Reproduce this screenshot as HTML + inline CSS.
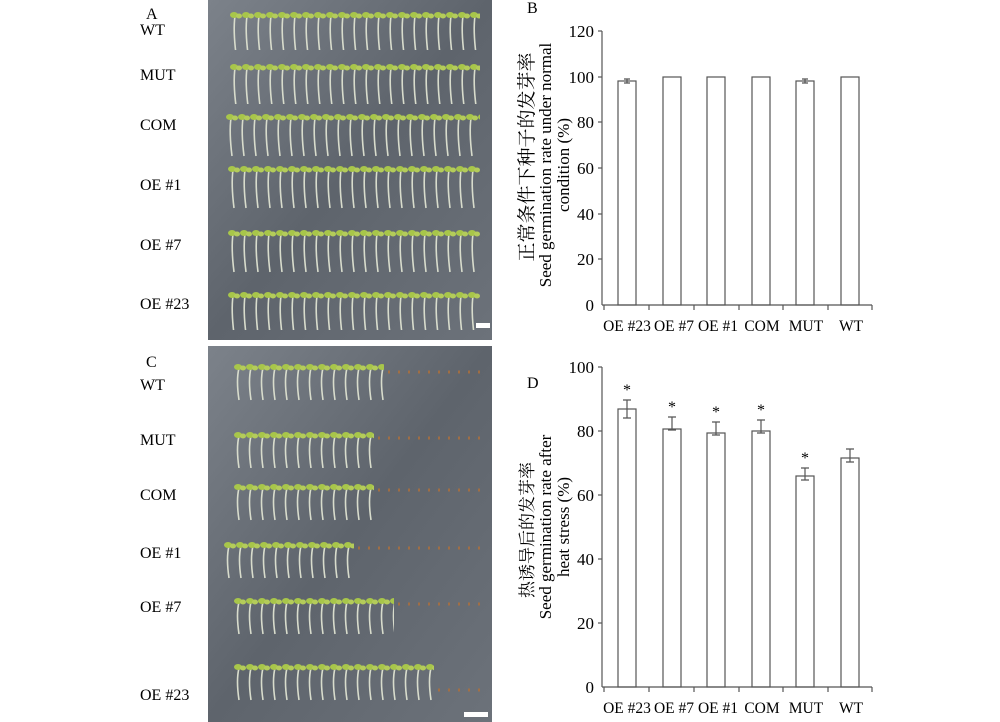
<html><head><style>body{margin:0;background:#fff}</style></head><body>
<svg width="1000" height="722" xmlns="http://www.w3.org/2000/svg" font-family="Liberation Serif, Noto Serif CJK SC, serif">
<defs>
<linearGradient id="g1" x1="0" y1="0" x2="1" y2="1"><stop offset="0" stop-color="#7c828a"/><stop offset="0.5" stop-color="#5e646c"/><stop offset="1" stop-color="#6c727a"/></linearGradient>
<pattern id="sd" width="12" height="45" patternUnits="userSpaceOnUse">
<path d="M5 6 Q3 20 6 44" stroke="#d8dccc" stroke-width="1.6" fill="none"/>
<ellipse cx="4" cy="5" rx="4" ry="3" fill="#a8c64a"/><ellipse cx="9" cy="6" rx="3" ry="2.5" fill="#b4cc5a"/>
</pattern>
<pattern id="sc" width="12" height="40" patternUnits="userSpaceOnUse">
<path d="M5 6 Q2 18 5 38" stroke="#d8dccc" stroke-width="1.6" fill="none"/>
<ellipse cx="4" cy="5" rx="4" ry="3" fill="#a8c64a"/><ellipse cx="9" cy="6" rx="3" ry="2.5" fill="#b4cc5a"/>
</pattern>
</defs>
<rect x="208" y="0" width="284" height="340" fill="url(#g1)"/>
<rect x="208" y="346" width="284" height="376" fill="url(#g1)"/>
<g transform="translate(230,10)"><rect width="250" height="40" fill="url(#sd)"/></g>
<g transform="translate(230,62)"><rect width="250" height="42" fill="url(#sd)"/></g>
<g transform="translate(226,112)"><rect width="254" height="45" fill="url(#sd)"/></g>
<g transform="translate(228,164)"><rect width="252" height="45" fill="url(#sd)"/></g>
<g transform="translate(228,228)"><rect width="252" height="45" fill="url(#sd)"/></g>
<g transform="translate(228,290)"><rect width="252" height="40" fill="url(#sd)"/></g>
<g transform="translate(234,362)"><rect width="150" height="40" fill="url(#sc)"/></g>
<g transform="translate(234,430)"><rect width="140" height="38" fill="url(#sc)"/></g>
<g transform="translate(234,482)"><rect width="140" height="40" fill="url(#sc)"/></g>
<g transform="translate(224,540)"><rect width="130" height="40" fill="url(#sc)"/></g>
<g transform="translate(234,596)"><rect width="160" height="40" fill="url(#sc)"/></g>
<g transform="translate(234,662)"><rect width="200" height="40" fill="url(#sc)"/></g>
<g stroke="#b0703a" stroke-width="3" stroke-dasharray="2 8" opacity="0.8">
<line x1="388" y1="372" x2="480" y2="372"/><line x1="378" y1="438" x2="480" y2="438"/><line x1="378" y1="490" x2="480" y2="490"/>
<line x1="358" y1="548" x2="480" y2="548"/><line x1="398" y1="604" x2="480" y2="604"/><line x1="438" y1="690" x2="480" y2="690"/>
</g>
<rect x="476" y="323" width="14" height="5" fill="#fff"/>
<rect x="464" y="712" width="24" height="5" fill="#fff"/>
<g font-size="16" fill="#000">
<text x="146" y="19">A</text><text x="140" y="35">WT</text><text x="140" y="80">MUT</text><text x="140" y="130">COM</text>
<text x="140" y="190">OE #1</text><text x="140" y="250">OE #7</text><text x="140" y="309">OE #23</text>
<text x="146" y="367">C</text><text x="140" y="390">WT</text><text x="140" y="445">MUT</text><text x="140" y="500">COM</text>
<text x="140" y="558">OE #1</text><text x="140" y="612">OE #7</text><text x="140" y="700">OE #23</text>
<text x="527" y="13">B</text><text x="527" y="388">D</text>
</g>
<g stroke="#555" stroke-width="1.2" fill="none">
<line x1="602" y1="31" x2="602" y2="305"/><line x1="602" y1="305" x2="872" y2="305"/>
<line x1="598" y1="31" x2="602" y2="31"/><line x1="598" y1="77" x2="602" y2="77"/><line x1="598" y1="122" x2="602" y2="122"/><line x1="598" y1="168" x2="602" y2="168"/><line x1="598" y1="214" x2="602" y2="214"/><line x1="598" y1="259" x2="602" y2="259"/>
<line x1="604" y1="305" x2="604" y2="310"/><line x1="649" y1="305" x2="649" y2="310"/><line x1="694" y1="305" x2="694" y2="310"/><line x1="739" y1="305" x2="739" y2="310"/><line x1="783" y1="305" x2="783" y2="310"/><line x1="828" y1="305" x2="828" y2="310"/><line x1="872" y1="305" x2="872" y2="310"/>
<rect x="618" y="81" width="18" height="224"/><rect x="663" y="77" width="18" height="228"/><rect x="707" y="77" width="18" height="228"/><rect x="752" y="77" width="18" height="228"/><rect x="796" y="81" width="18" height="224"/><rect x="841" y="77" width="18" height="228"/>
<path d="M624 79h6M627 79v4M624 83h6M802 79h6M805 79v4M802 83h6"/>
</g>
<g font-size="17" text-anchor="end"><text x="594" y="37">120</text><text x="594" y="83">100</text><text x="594" y="128">80</text><text x="594" y="174">60</text><text x="594" y="220">40</text><text x="594" y="265">20</text><text x="594" y="311">0</text></g>
<g font-size="15.5" text-anchor="middle"><text x="627" y="331">OE #23</text><text x="674" y="331">OE #7</text><text x="718" y="331">OE #1</text><text x="762" y="331">COM</text><text x="806" y="331">MUT</text><text x="851" y="331">WT</text></g>
<g text-anchor="middle"><text font-size="19" transform="translate(533,157) rotate(-90)">正常条件下种子的发芽率</text><text font-size="17" transform="translate(551,165) rotate(-90)">Seed germination rate under normal</text><text font-size="17" transform="translate(569,165) rotate(-90)">condition (%)</text></g>
<g stroke="#555" stroke-width="1.2" fill="none">
<line x1="602" y1="367" x2="602" y2="687"/><line x1="602" y1="687" x2="872" y2="687"/>
<line x1="598" y1="367" x2="602" y2="367"/><line x1="598" y1="431" x2="602" y2="431"/><line x1="598" y1="495" x2="602" y2="495"/><line x1="598" y1="559" x2="602" y2="559"/><line x1="598" y1="623" x2="602" y2="623"/>
<line x1="604" y1="687" x2="604" y2="692"/><line x1="649" y1="687" x2="649" y2="692"/><line x1="694" y1="687" x2="694" y2="692"/><line x1="739" y1="687" x2="739" y2="692"/><line x1="783" y1="687" x2="783" y2="692"/><line x1="828" y1="687" x2="828" y2="692"/><line x1="872" y1="687" x2="872" y2="692"/>
<rect x="618" y="409" width="18" height="278"/><rect x="663" y="429" width="18" height="258"/><rect x="707" y="433" width="18" height="254"/><rect x="752" y="431" width="18" height="256"/><rect x="796" y="476" width="18" height="211"/><rect x="841" y="458" width="18" height="229"/>
<path d="M623 400h8M627 400v18M623 418h8M668 417h8M672 417v13M668 430h8M712 422h8M716 422v13M712 435h8M757 420h8M761 420v13M757 433h8M801 468h8M805 468v12M801 480h8M846 449h8M850 449v13M846 462h8"/>
</g>
<g font-size="17" text-anchor="end"><text x="594" y="373">100</text><text x="594" y="437">80</text><text x="594" y="501">60</text><text x="594" y="565">40</text><text x="594" y="629">20</text><text x="594" y="693">0</text></g>
<g font-size="16" text-anchor="middle"><text x="627" y="395">*</text><text x="672" y="412">*</text><text x="716" y="417">*</text><text x="761" y="415">*</text><text x="805" y="463">*</text></g>
<g font-size="15.5" text-anchor="middle"><text x="627" y="713">OE #23</text><text x="674" y="713">OE #7</text><text x="718" y="713">OE #1</text><text x="762" y="713">COM</text><text x="806" y="713">MUT</text><text x="851" y="713">WT</text></g>
<g text-anchor="middle"><text font-size="17" transform="translate(533,530) rotate(-90)">热诱导后的发芽率</text><text font-size="17" transform="translate(551,527) rotate(-90)">Seed germination rate after</text><text font-size="17" transform="translate(569,527) rotate(-90)">heat stress (%)</text></g>
</svg>
</body></html>
